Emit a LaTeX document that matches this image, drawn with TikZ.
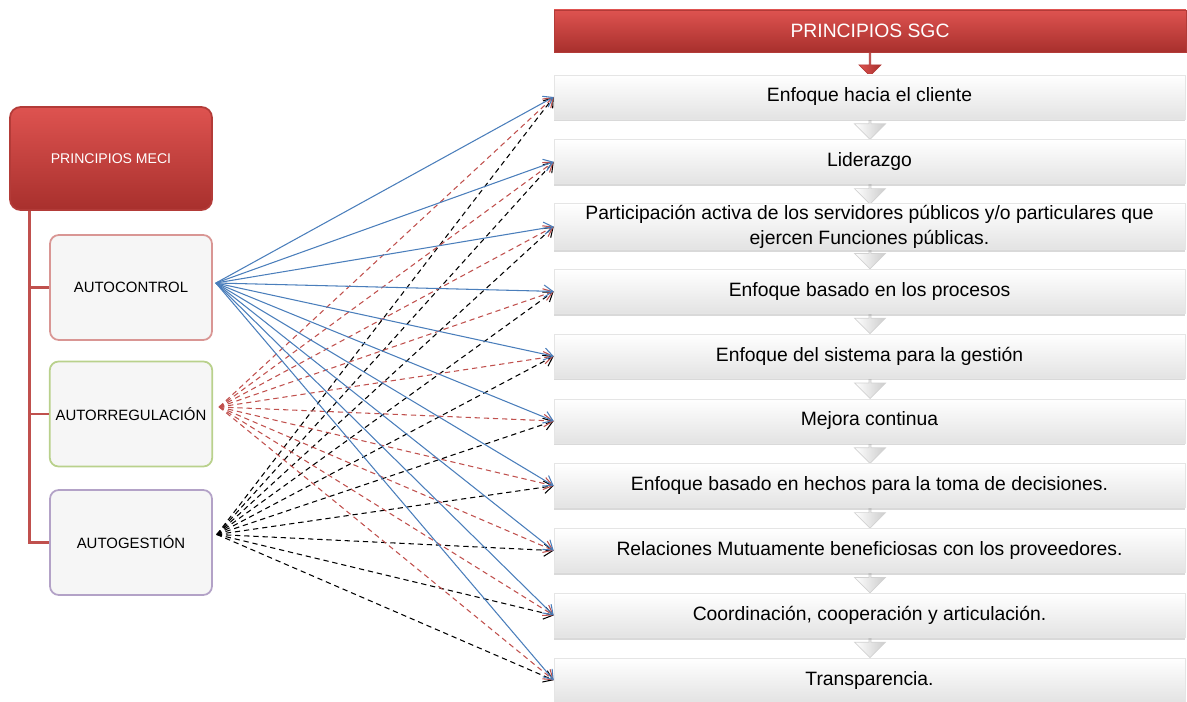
\documentclass[tikz,border=0pt]{standalone}
\usepackage{fontspec}
\setmainfont{Liberation Sans}
\usepackage{tikz}
\usetikzlibrary{arrows.meta,shapes.arrows,shadows,calc,positioning}
\definecolor{ctrlblue}{HTML}{4A7EBB}
\definecolor{reglred}{HTML}{C0504D}
\definecolor{headtop}{HTML}{DE5350}
\definecolor{headbot}{HTML}{A8302D}
\definecolor{headline}{HTML}{B33B38}
\definecolor{acline}{HTML}{D99694}
\definecolor{arline}{HTML}{B9D18C}
\definecolor{agline}{HTML}{B3A2C7}
\tikzset{
  sgchead/.style={ draw=headline, top color=headtop, bottom color=headbot,
    minimum width=12.64cm, minimum height=0.84cm, text=white,
    font=\fontsize{11}{13}\selectfont }
}
\tikzset{
  sgcbar/.style={ draw=gray!20, top color=white, bottom color=gray!22,
    minimum width=12.62cm, minimum height=0.88cm, inner sep=1pt,
    align=center, font=\fontsize{11}{14}\selectfont,
    drop shadow={shadow xshift=0pt, shadow yshift=-1.2pt, opacity=0.3} }
}
\tikzset{
  mecihead/.style={ draw=headline, line width=1pt, rounded corners=6pt,
    top color=headtop, bottom color=headbot, text=white,
    minimum width=4.04cm, minimum height=2.06cm,
    font=\fontsize{8}{10}\selectfont }
}
\tikzset{
  mecibox/.style={ draw=#1, line width=1pt, rounded corners=5pt, fill=gray!7,
    minimum width=3.24cm, minimum height=2.1cm,
    font=\fontsize{8.5}{10}\selectfont }
}
\tikzset{
  flowdown/.style={ single arrow, rotate=-90, draw=#1!35,
    left color=white, right color=#1!40, inner sep=0pt,
    minimum height=0.48cm, single arrow head extend=0.1cm,
    minimum width=0.62cm }
}
\tikzset{
  tree/.style={ draw=reglred, line width=1.7pt },
  tip/.style={ -{Straight Barb[length=5pt,width=7pt]} },
  ctrl/.style={ tip, draw=ctrlblue, line width=0.6pt },
  regl/.style={ tip, draw=reglred, line width=0.6pt, dash pattern=on 3pt off 2.2pt },
  gest/.style={ tip, draw=black, line width=0.6pt, dash pattern=on 3pt off 2.2pt }
}

\begin{document}
\begin{tikzpicture}[x=0.02cm, y=-0.02cm]
  \useasboundingbox (0,0) rectangle (1187,702);

  % flow arrows behind the bars
  \node[flowdown=headbot, draw=headline, left color=headtop, right color=headbot,
        minimum width=0.44cm, minimum height=0.54cm] (fa0) at (870,62) {};
  \foreach \i in {2,...,10}
    \node[flowdown=gray] (fa\i) at (870,{97+64.8*(\i-1)-22-13}) {};

  % principios SGC
  \node[sgchead] (sgc) at (870,31) {PRINCIPIOS SGC};
  \node[sgcbar] (b-1) at (869.5,97) {Enfoque hacia el cliente};
  \node[sgcbar] (b-2) at (869.5,161.8) {Liderazgo};
  \node[sgcbar] (b-3) at (869.5,226.6) {Participación activa de los servidores públicos y/o particulares que\\ejercen Funciones públicas.};
  \node[sgcbar] (b-4) at (869.5,291.4) {Enfoque basado en los procesos};
  \node[sgcbar] (b-5) at (869.5,356.2) {Enfoque del sistema para la gestión};
  \node[sgcbar] (b-6) at (869.5,421) {Mejora continua};
  \node[sgcbar] (b-7) at (869.5,485.8) {Enfoque basado en hechos para la toma de decisiones.};
  \node[sgcbar] (b-8) at (869.5,550.6) {Relaciones Mutuamente beneficiosas con los proveedores.};
  \node[sgcbar] (b-9) at (869.5,615.4) {Coordinación, cooperación y articulación.};
  \node[sgcbar] (b-10) at (869.5,680.2) {Transparencia.};

  % principios MECI
  \node[mecihead] (meci) at (111,158.5) {PRINCIPIOS MECI};
  \node[mecibox=acline] (ac) at (131,287.5) {AUTOCONTROL};
  \node[mecibox=arline] (ar) at (131,414) {AUTORREGULACIÓN};
  \node[mecibox=agline] (ag) at (131,542.5) {AUTOGESTIÓN};
  \draw[tree] ([xshift=0.4cm]meci.south west) |- (ac.west);
  \draw[tree] ([xshift=0.4cm]meci.south west) |- (ar.west);
  \draw[tree] ([xshift=0.4cm]meci.south west) |- (ag.west);

  \coordinate (ac-o) at ($(ac.east)+(3,-4.5)$);
  \coordinate (ar-o) at ($(ar.east)+(6,-7)$);
  \coordinate (ag-o) at ($(ag.east)+(4,-8)$);

  % relations
  \foreach \i in {1,...,10} {
    \draw[gest] (ag-o) -- (b-\i.west);
    \draw[regl] (ar-o) -- (b-\i.west);
    \draw[ctrl] (ac-o) -- (b-\i.west);
  }
\end{tikzpicture}
\end{document}
